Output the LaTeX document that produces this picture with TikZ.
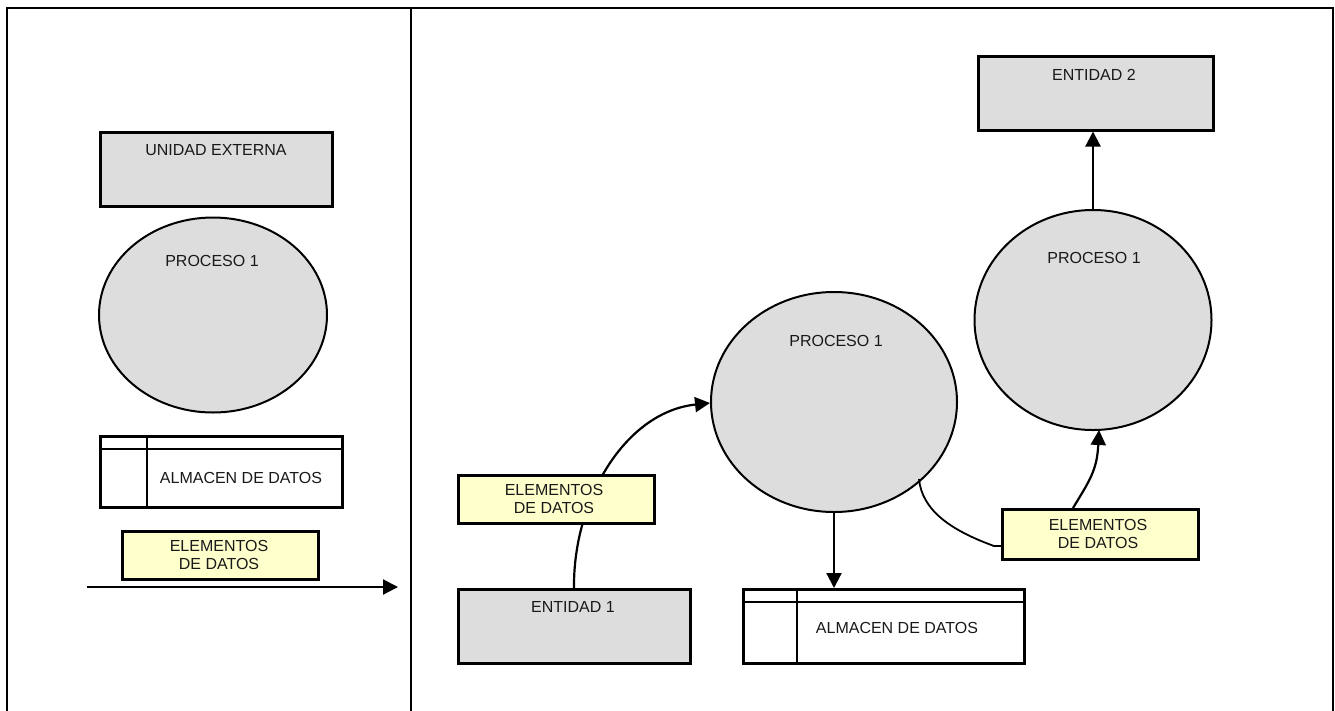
\documentclass[tikz,border=0pt]{standalone}
\usepackage{fontspec}
\setmainfont{Liberation Sans}
\usetikzlibrary{arrows.meta,shapes.geometric}
\definecolor{shade}{HTML}{DDDDDD}
\definecolor{note}{HTML}{FFFFCC}
\begin{document}
\begin{tikzpicture}[x=1pt,y=-1pt,
  every node/.style={font=\fontsize{16}{18}\selectfont, text=black!90},
  entity/.style={draw, line width=2.5pt, fill=shade, inner sep=0pt, anchor=north west},
  process/.style={ellipse, draw, line width=2pt, fill=shade, inner sep=0pt},
  store/.style={draw, line width=2.5pt, fill=white, inner sep=0pt, anchor=north west},
  flowlabel/.style={draw, line width=2.5pt, fill=note, inner sep=0pt, anchor=north west, align=center},
  txt/.style={inner sep=0pt},
  flow/.style={line width=2.2pt, -{Triangle[length=15pt,width=15pt]}},
  plain/.style={line width=1.8pt}]
\useasboundingbox (0,0) rectangle (1335,710);

% outer frame and column divider
\draw[line width=2.6pt] (7,720) -- (7,8) -- (1333,8) -- (1333,720);
\draw[line width=2.6pt] (411,8) -- (411,720);

% ---------- legend ----------
\node[entity, minimum width=232pt, minimum height=74pt] (ue) at (99,131) {};
\node[txt] (uet) at (216,150) {UNIDAD EXTERNA};

\node[process, minimum width=228pt, minimum height=195pt] (p0) at (213,315) {};
\node[txt] (p0t) at (212,261) {PROCESO 1};

\node[store, minimum width=242pt, minimum height=71pt] (a0) at (99,435) {};
\draw[line width=2.5pt] (99,449) -- (341,449) (147,435) -- (147,506);
\node[txt] (a0t) at (241,478) {ALMACEN DE DATOS};

\node[flowlabel, minimum width=196pt, minimum height=48pt] (e0) at (121,530) {};
\node[txt, align=center] (e0t) at (219,555) {ELEMENTOS\\DE DATOS};

\coordinate (l0) at (87,587);
\coordinate (l1) at (398,587);
\draw[flow] (l0) -- (l1);

% ---------- example ----------
\node[entity, minimum width=235pt, minimum height=74pt] (en2) at (977,55) {};
\node[txt] (en2t) at (1094,75) {ENTIDAD 2};

\node[process, minimum width=237pt, minimum height=220pt] (p2) at (1093,320) {};
\node[txt] (p2t) at (1094,258) {PROCESO 1};

\node[process, minimum width=246pt, minimum height=220pt] (p1) at (834,402) {};
\node[txt] (p1t) at (836,341) {PROCESO 1};

\node[entity, minimum width=232pt, minimum height=74pt] (en1) at (457,588) {};
\node[txt] (en1t) at (573,607) {ENTIDAD 1};

\node[store, minimum width=281pt, minimum height=74pt] (a1) at (742,588) {};
\draw[line width=2.5pt] (742,602) -- (1023,602) (797,588) -- (797,662);
\node[txt] (a1t) at (897,628) {ALMACEN DE DATOS};

% flows (label boxes are drawn on top of their lines)
\coordinate (c1) at (574,588);
\coordinate (c2) at (710,403);
\draw[flow] (c1) .. controls (573,500) and (625,412) .. (c2);

\coordinate (d0) at (919,479);
\coordinate (d1) at (994,546);
\coordinate (d2) at (1073,508);
\coordinate (d3) at (1099,430);
\draw[plain] (d0) .. controls (922,510) and (950,530) .. (d1) -- (1005,546) -- (1060,530) -- (d2);
\draw[flow] (d2) .. controls (1090,480) and (1097,470) .. (d3);

\draw[flow] (p1.south) -- (p1.south |- a1.north);
\draw[flow] (p2.north) -- (p2.north |- en2.south);

\node[flowlabel, minimum width=196pt, minimum height=48pt] (e1) at (457,474) {};
\node[txt, align=center] (e1t) at (554,499) {ELEMENTOS\\DE DATOS};

\node[flowlabel, minimum width=196pt, minimum height=50pt] (e2) at (1001,508) {};
\node[txt, align=center] (e2t) at (1098,534) {ELEMENTOS\\DE DATOS};
\end{tikzpicture}
\end{document}
